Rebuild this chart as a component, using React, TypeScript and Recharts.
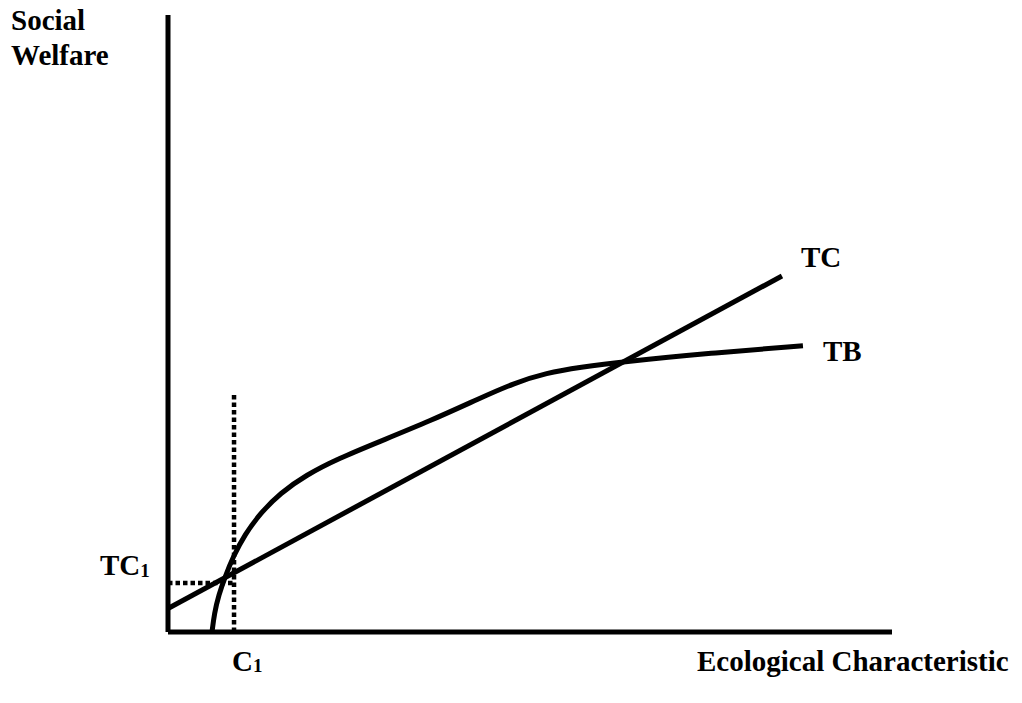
import React from "react";
import { ComposedChart, Line, XAxis, YAxis, ReferenceLine } from "recharts";

// Ecological characteristic (x) vs social welfare (y), arbitrary 0-100 units
const tcCurve = [
  { x: 0, y: 3.8 },
  { x: 84.8, y: 57.7 },
];

const tbCurve = [
  { x: 6.08, y: 0 },
  { x: 6.4, y: 3.0 },
  { x: 7.0, y: 6.0 },
  { x: 7.9, y: 9.0 },
  { x: 9.0, y: 12.2 },
  { x: 10.6, y: 15.8 },
  { x: 12.8, y: 19.3 },
  { x: 15.5, y: 22.5 },
  { x: 19.0, y: 25.4 },
  { x: 23.5, y: 28.1 },
  { x: 29.3, y: 30.9 },
  { x: 36.2, y: 34.2 },
  { x: 43.1, y: 37.9 },
  { x: 47.7, y: 40.3 },
  { x: 52.3, y: 42.0 },
  { x: 56.9, y: 42.9 },
  { x: 62.8, y: 43.8 },
  { x: 74.9, y: 45.2 },
  { x: 87.7, y: 46.4 },
];

const c1Value = 9.12;
const c1Top = 38.4;
const tc1Value = 7.94;

const FONT = "Liberation Serif";
const textStyle: React.CSSProperties = {
  fontFamily: FONT,
  fontWeight: 700,
  fontSize: 29,
  fill: "#000",
};

export default function App() {
  const W = 1022;
  const H = 703;
  return (
    <div style={{ position: "absolute", left: 0, top: 0, width: W, height: H, background: "#fff" }}>
      <ComposedChart
        width={W}
        height={H}
        margin={{ top: 15, right: 130, bottom: 51, left: 148 }}
      >
        <XAxis
          type="number"
          dataKey="x"
          domain={[0, 100]}
          height={20}
          tick={false}
          tickLine={false}
          axisLine={{ stroke: "#000", strokeWidth: 5 }}
        />
        <YAxis
          type="number"
          dataKey="y"
          domain={[0, 100]}
          width={20}
          tick={false}
          tickLine={false}
          axisLine={{ stroke: "#000", strokeWidth: 5 }}
        />
        <ReferenceLine
          segment={[
            { x: c1Value, y: 0 },
            { x: c1Value, y: c1Top },
          ]}
          stroke="#000"
          strokeWidth={4.5}
          strokeDasharray="4.5 3"
          ifOverflow="visible"
        />
        <ReferenceLine
          segment={[
            { x: 0, y: tc1Value },
            { x: c1Value, y: tc1Value },
          ]}
          stroke="#000"
          strokeWidth={4.5}
          strokeDasharray="4.5 3"
          ifOverflow="visible"
        />
        <Line
          data={tcCurve}
          dataKey="y"
          type="linear"
          stroke="#000"
          strokeWidth={5}
          dot={false}
          activeDot={false}
          isAnimationActive={false}
        />
        <Line
          data={tbCurve}
          dataKey="y"
          type="basis"
          stroke="#000"
          strokeWidth={5}
          dot={false}
          activeDot={false}
          isAnimationActive={false}
        />
      </ComposedChart>
      <svg
        width={W}
        height={H}
        style={{ position: "absolute", left: 0, top: 0, pointerEvents: "none" }}
      >
        <text x={11} y={30} style={textStyle}>Social</text>
        <text x={11} y={65} style={textStyle}>Welfare</text>
        <text x={801} y={267} style={textStyle}>TC</text>
        <text x={823} y={361} style={textStyle}>TB</text>
        <text x={100} y={575} style={textStyle}>
          TC<tspan style={{ fontSize: 19 }} dy={2}>1</tspan>
        </text>
        <text x={232} y={671} style={textStyle}>
          C<tspan style={{ fontSize: 19 }} dy={1}>1</tspan>
        </text>
        <text x={697} y={671} style={textStyle}>Ecological Characteristic</text>
      </svg>
    </div>
  );
}
